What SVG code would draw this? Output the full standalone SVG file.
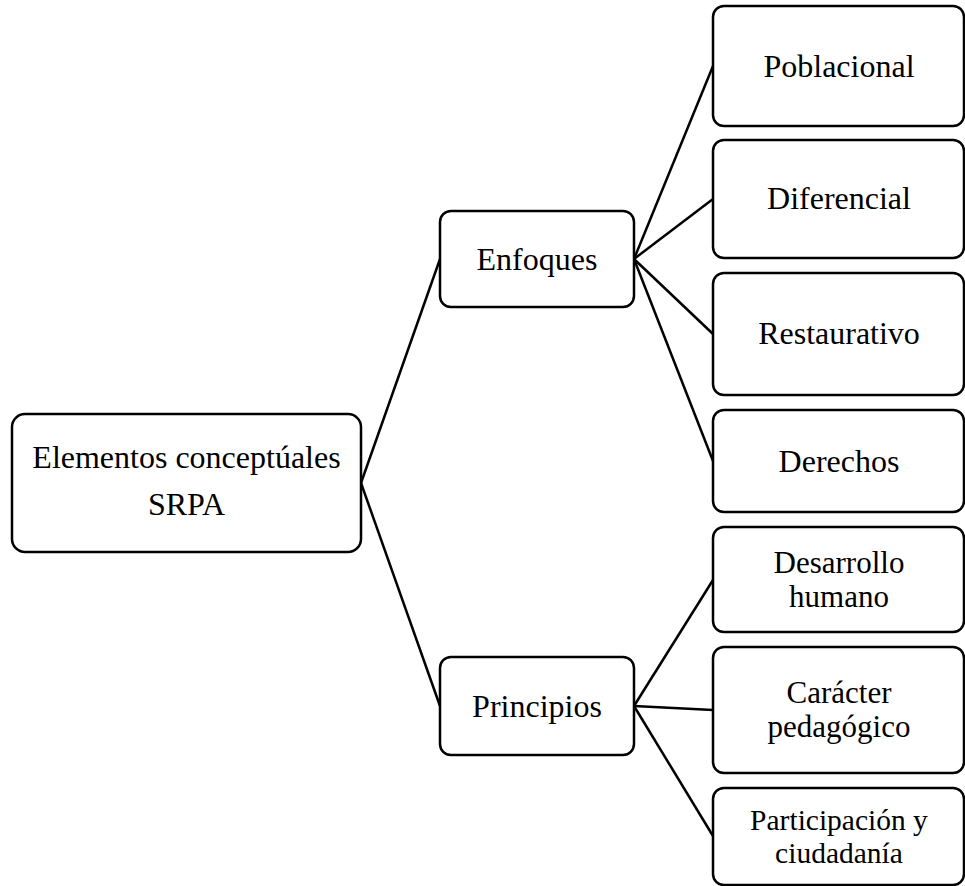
<svg xmlns="http://www.w3.org/2000/svg" width="965" height="886" viewBox="0 0 965 886">
<style>
.box{fill:#fff;stroke:#000;stroke-width:2.5}
.t{font-family:"Liberation Serif","Times New Roman",serif;font-size:32px;fill:#000;text-anchor:middle}
.s{font-size:31px}
.p{font-size:29.5px}
.c{stroke:#000;stroke-width:2.5;fill:none}
</style>
<rect width="965" height="886" fill="#fff"/>
<g id="connectors">
<line class="c" x1="361" y1="483" x2="440" y2="259"/>
<line class="c" x1="361" y1="483" x2="440" y2="706"/>
<line class="c" x1="634" y1="259" x2="713" y2="66"/>
<line class="c" x1="634" y1="259" x2="713" y2="199"/>
<line class="c" x1="634" y1="259" x2="713" y2="334"/>
<line class="c" x1="634" y1="259" x2="713" y2="461"/>
<line class="c" x1="634" y1="706" x2="713" y2="580"/>
<line class="c" x1="634" y1="706" x2="713" y2="710"/>
<line class="c" x1="634" y1="706" x2="713" y2="836"/>
</g>
<g id="root">
<rect class="box" x="12" y="414" width="349" height="138" rx="13"/>
<text class="t" x="186.5" y="468">Elementos conceptúales</text>
<text class="t" x="186.5" y="515">SRPA</text>
</g>
<g id="enfoques">
<rect class="box" x="440" y="211" width="194" height="96" rx="11"/>
<text class="t" x="537" y="270">Enfoques</text>
</g>
<g id="principios">
<rect class="box" x="440" y="657" width="194" height="98" rx="11"/>
<text class="t" x="537" y="717">Principios</text>
</g>
<g id="poblacional">
<rect class="box" x="713" y="6" width="251" height="120" rx="11"/>
<text class="t" x="839" y="77">Poblacional</text>
</g>
<g id="diferencial">
<rect class="box" x="713" y="140" width="251" height="118" rx="11"/>
<text class="t" x="839" y="209">Diferencial</text>
</g>
<g id="restaurativo">
<rect class="box" x="713" y="273" width="251" height="122" rx="11"/>
<text class="t" x="839" y="344">Restaurativo</text>
</g>
<g id="derechos">
<rect class="box" x="713" y="410" width="251" height="102" rx="11"/>
<text class="t" x="839" y="472">Derechos</text>
</g>
<g id="desarrollo">
<rect class="box" x="713" y="527" width="251" height="105" rx="11"/>
<text class="t s" x="839" y="573">Desarrollo</text>
<text class="t s" x="839" y="607">humano</text>
</g>
<g id="caracter">
<rect class="box" x="713" y="647" width="251" height="126" rx="11"/>
<text class="t s" x="839" y="703">Carácter</text>
<text class="t s" x="839" y="737">pedagógico</text>
</g>
<g id="participacion">
<rect class="box" x="713" y="788" width="251" height="97" rx="11"/>
<text class="t p" x="839" y="830">Participación y</text>
<text class="t p" x="839" y="863">ciudadanía</text>
</g>
</svg>
